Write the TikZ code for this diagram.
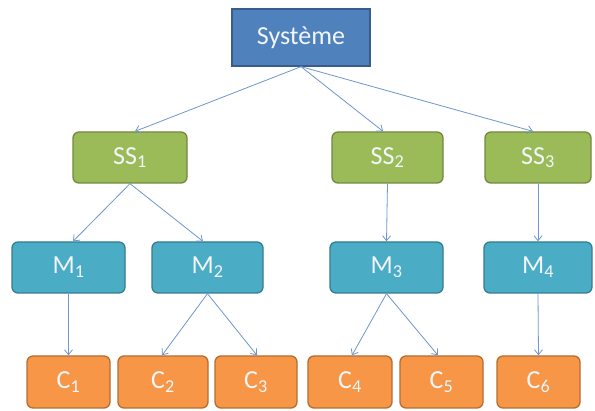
\documentclass[tikz,border=0pt]{standalone}
\usepackage{fontspec}
\setmainfont{Carlito}
\usetikzlibrary{arrows.meta}
\definecolor{sysfill}{HTML}{4F81BD}
\definecolor{sysdraw}{HTML}{385D8A}
\definecolor{ssfill}{HTML}{9BBB59}
\definecolor{ssdraw}{HTML}{71893F}
\definecolor{mfill}{HTML}{4BACC6}
\definecolor{mdraw}{HTML}{357D91}
\definecolor{cfill}{HTML}{F79646}
\definecolor{cdraw}{HTML}{B66D31}
\definecolor{linkc}{HTML}{6E97CB}
\definecolor{txt}{HTML}{F2F6FA}
\tikzset{
  box/.style={draw, line width=1.3pt, rounded corners=6pt, text=txt, inner sep=0pt, anchor=center, minimum height=51pt, font=\fontsize{26}{26}\selectfont},
  sysbox/.style={box, rounded corners=0pt, fill=sysfill, draw=sysdraw, minimum height=57pt},
  ssbox/.style={box, fill=ssfill, draw=ssdraw},
  mbox/.style={box, fill=mfill, draw=mdraw},
  cbox/.style={box, fill=cfill, draw=cdraw, minimum height=52pt},
  link/.style={draw=linkc, line width=0.8pt, -{Straight Barb[length=5pt,width=8pt]}}
}
\begin{document}
\begin{tikzpicture}[x=1pt,y=-1pt]
\useasboundingbox[fill=white] (0,0) rectangle (595,411);
\node[sysbox, minimum width=138pt] (sys) at (301,37.5) {Système};
\node[ssbox, minimum width=114pt] (ss1) at (130,157.5) {SS\textsubscript{1}};
\node[ssbox, minimum width=111pt] (ss2) at (387.5,157.5) {SS\textsubscript{2}};
\node[ssbox, minimum width=106pt] (ss3) at (538,157.5) {SS\textsubscript{3}};
\node[mbox, minimum width=113pt] (m1) at (68.5,267.5) {M\textsubscript{1}};
\node[mbox, minimum width=111pt] (m2) at (207.5,267.5) {M\textsubscript{2}};
\node[mbox, minimum width=113pt] (m3) at (386.5,267.5) {M\textsubscript{3}};
\node[mbox, minimum width=108pt] (m4) at (538,267.5) {M\textsubscript{4}};
\node[cbox, minimum width=83pt] (c1) at (68.5,382) {C\textsubscript{1}};
\node[cbox, minimum width=90pt] (c2) at (163,382) {C\textsubscript{2}};
\node[cbox, minimum width=82pt] (c3) at (256,382) {C\textsubscript{3}};
\node[cbox, minimum width=84pt] (c4) at (350,382) {C\textsubscript{4}};
\node[cbox, minimum width=83pt] (c5) at (441.5,382) {C\textsubscript{5}};
\node[cbox, minimum width=83pt] (c6) at (538.5,382) {C\textsubscript{6}};
\draw[link] (sys.south) -- ([xshift=5pt]ss1.north);
\draw[link] (sys.south) -- ([xshift=-4.5pt]ss2.north);
\draw[link] (sys.south) -- ([xshift=-5pt]ss3.north);
\draw[link] (ss1.south) -- ([xshift=4.5pt]m1.north);
\draw[link] (ss1.south) -- ([xshift=-4.5pt]m2.north);
\draw[link] (ss2.south) -- (m3.north);
\draw[link] (ss3.south) -- (m4.north);
\draw[link] (m1.south) -- (c1.north);
\draw[link] (m2.south) -- ([xshift=-1pt]c2.north);
\draw[link] (m2.south) -- ([xshift=1pt]c3.north);
\draw[link] (m3.south) -- ([xshift=2pt]c4.north);
\draw[link] (m3.south) -- ([xshift=-3.5pt]c5.north);
\draw[link] (m4.south) -- (c6.north);
\end{tikzpicture}
\end{document}
